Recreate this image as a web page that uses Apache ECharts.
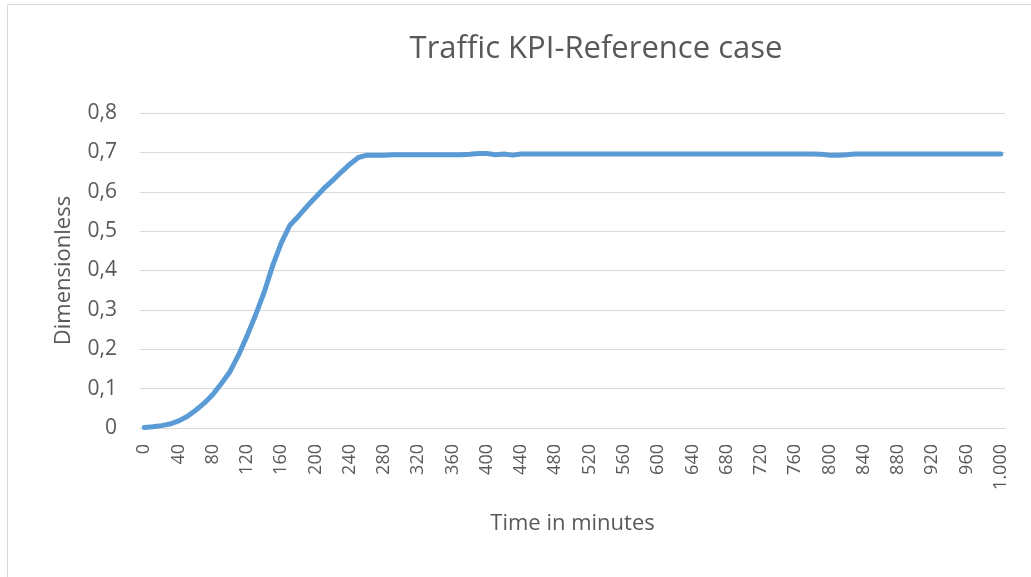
<!DOCTYPE html>
<html>
<head>
<meta charset="utf-8">
<title>Traffic KPI-Reference case</title>
<script src="https://cdn.jsdelivr.net/npm/echarts@6/dist/echarts.min.js"></script>
<style>
  html, body { margin: 0; padding: 0; background: #fff; }
  #chart { width: 1031px; height: 577px; }
</style>
</head>
<body>
<div id="chart"></div>
<script>
// time in minutes, one point every 10 minutes
const minutes = [
  0, 10, 20, 30, 40, 50, 60, 70, 80, 90,
  100, 110, 120, 130, 140, 150, 160, 170, 180, 190,
  200, 210, 220, 230, 240, 250, 260, 270, 280, 290,
  300, 310, 320, 330, 340, 350, 360, 370, 380, 390,
  400, 410, 420, 430, 440, 450, 460, 470, 480, 490,
  500, 510, 520, 530, 540, 550, 560, 570, 580, 590,
  600, 610, 620, 630, 640, 650, 660, 670, 680, 690,
  700, 710, 720, 730, 740, 750, 760, 770, 780, 790,
  800, 810, 820, 830, 840, 850, 860, 870, 880, 890,
  900, 910, 920, 930, 940, 950, 960, 970, 980, 990,
  1000
];

// KPI values
const kpi = [
  0.001, 0.003, 0.006, 0.010, 0.018, 0.029, 0.045, 0.063, 0.085, 0.113,
  0.143, 0.185, 0.234, 0.287, 0.345, 0.413, 0.470, 0.515, 0.538, 0.563,
  0.586, 0.609, 0.629, 0.650, 0.670, 0.687, 0.693, 0.693, 0.693, 0.694,
  0.694, 0.694, 0.694, 0.694, 0.694, 0.694, 0.694, 0.694, 0.695, 0.697,
  0.697, 0.694, 0.696, 0.693, 0.696, 0.696, 0.696, 0.696, 0.696, 0.696,
  0.696, 0.696, 0.696, 0.696, 0.696, 0.696, 0.696, 0.696, 0.696, 0.696,
  0.696, 0.696, 0.696, 0.696, 0.696, 0.696, 0.696, 0.696, 0.696, 0.696,
  0.696, 0.696, 0.696, 0.696, 0.696, 0.696, 0.696, 0.696, 0.696, 0.695,
  0.693, 0.693, 0.694, 0.696, 0.696, 0.696, 0.696, 0.696, 0.696, 0.696,
  0.696, 0.696, 0.696, 0.696, 0.696, 0.696, 0.696, 0.696, 0.696, 0.696,
  0.696
];

const yTicks = [0, 0.1, 0.2, 0.3, 0.4, 0.5, 0.6, 0.7, 0.8];

const textColor = '#595959';
const gridColor = '#d9d9d9';
const font = 'Open Sans';

const chart = echarts.init(document.getElementById('chart'));

const option = {
  animation: false,
  backgroundColor: '#fff',
  graphic: [{
    type: 'rect',
    shape: { x: 7.5, y: 4.5, width: 1100, height: 700 },
    style: { fill: 'none', stroke: gridColor, lineWidth: 1 },
    silent: true
  }],
  title: {
    text: 'Traffic KPI-Reference case',
    left: 591,
    top: 29,
    textAlign: 'center',
    textStyle: {
      color: textColor,
      fontFamily: font,
      fontSize: 31,
      fontWeight: 'normal'
    }
  },
  grid: {
    left: 140,
    right: 26,
    top: 113,
    bottom: 149,
    containLabel: false
  },
  xAxis: {
    type: 'category',
    data: minutes,
    boundaryGap: true,
    name: 'Time in minutes',
    nameLocation: 'middle',
    nameGap: 85,
    nameTextStyle: { color: textColor, fontFamily: font, fontSize: 22 },
    axisLine: { lineStyle: { color: gridColor, width: 1 } },
    axisTick: { show: false },
    axisLabel: {
      interval: 3,
      rotate: 90,
      margin: 16,
      color: textColor,
      fontFamily: font,
      fontSize: 18,
      formatter: v => Number(v) >= 1000 ? String(v).replace(/(\d)(\d{3})$/, '$1.$2') : String(v)
    },
    splitLine: { show: false }
  },
  yAxis: {
    type: 'value',
    min: yTicks[0],
    max: yTicks[yTicks.length - 1],
    interval: 0.1,
    name: 'Dimensionless',
    nameLocation: 'middle',
    nameGap: 65,
    nameTextStyle: { color: textColor, fontFamily: font, fontSize: 22 },
    axisLine: { show: false },
    axisTick: { show: false },
    axisLabel: {
      margin: 23,
      color: textColor,
      fontFamily: font,
      fontSize: 21,
      formatter: v => v === 0 ? '0' : v.toFixed(1).replace('.', ',')
    },
    splitLine: { lineStyle: { color: gridColor, width: 1 } }
  },
  series: [{
    name: 'Traffic KPI',
    type: 'line',
    data: kpi,
    showSymbol: false,
    smooth: false,
    lineStyle: { color: '#5b9bd5', width: 5, cap: 'round', join: 'round' },
    itemStyle: { color: '#5b9bd5' }
  }]
};

chart.setOption(option);
</script>
</body>
</html>
